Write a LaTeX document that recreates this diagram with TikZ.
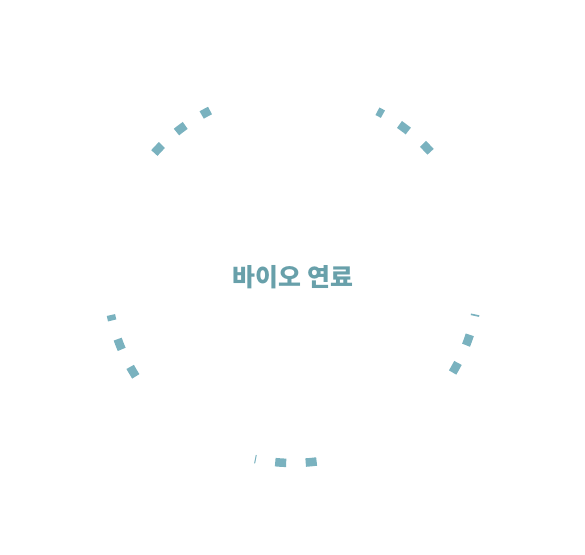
\documentclass[tikz,border=0pt]{standalone}
\usepackage{fontspec}
\newfontfamily\krfont{Noto Sans CJK KR}
\usetikzlibrary{calc}
\definecolor{dashblue}{RGB}{122,178,191}
\definecolor{textteal}{RGB}{104,160,170}
\tikzset{
  title/.style={font=\krfont\bfseries\fontsize{25}{30}\selectfont, text=textteal, inner sep=0pt},
  cyclearc/.style={dashblue, line width=8.5bp, dash pattern=on 11bp off 19.5bp},
}

\begin{document}
\begin{tikzpicture}[x=1bp, y=1bp]
  \useasboundingbox (0,0) rectangle (585,555);

  % centre label
  \node[title] (fuel) at (293,278) {바이오 연료};

  % dashed arcs of the cycle
  \foreach \s/\e in {42.3/63, -30.9/-11.6, -82.7/-101.8, 212.3/191.8, 138.2/116.5}
    \draw[cyclearc] ($(fuel.center)+(\s:186bp)$) arc[start angle=\s, end angle=\e, radius=186bp];

\end{tikzpicture}
\end{document}
